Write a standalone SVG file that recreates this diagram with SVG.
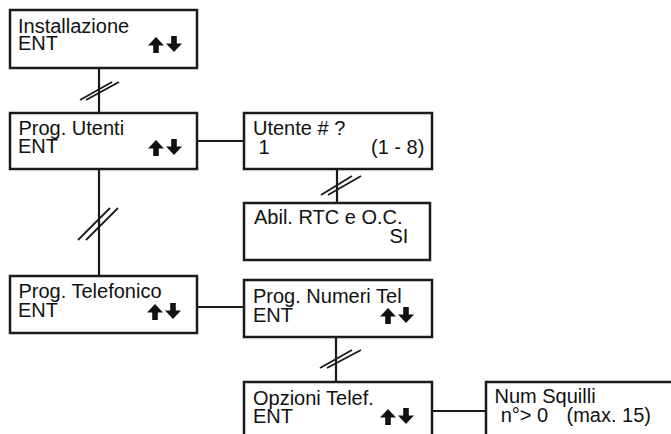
<svg xmlns="http://www.w3.org/2000/svg" xmlns:xlink="http://www.w3.org/1999/xlink" width="671" height="434" viewBox="0 0 671 434">
  <style>
    .box { fill: #ffffff; stroke: #1a1a1a; stroke-width: 2.5; }
    .wire { fill: none; stroke: #1a1a1a; stroke-width: 2.2; }
    .cut { fill: none; stroke: #1a1a1a; stroke-width: 1.8; }
    .t { font-family: "Liberation Sans", Arial, sans-serif; font-size: 20px; fill: #111111; }
    .r { text-anchor: end; }
  </style>
  <defs>
    <!-- scroll indicator: bold up and down arrows -->
    <g id="updown" fill="#111111">
      <polygon points="8,0 16,8.5 10.8,8.5 10.8,16 5.2,16 5.2,8.5 0,8.5"/>
      <polygon points="23.2,-1 28.8,-1 28.8,6.5 34,6.5 26,15 18,6.5 23.2,6.5"/>
    </g>
  </defs>

  <g id="connectors">
    <line class="wire" x1="99" y1="68" x2="99" y2="113"/>
    <line class="cut" x1="80" y1="100" x2="112" y2="82"/>
    <line class="cut" x1="86" y1="100" x2="119" y2="82"/>

    <line class="wire" x1="99" y1="169" x2="99" y2="276"/>
    <line class="cut" x1="78" y1="240" x2="110" y2="208"/>
    <line class="cut" x1="86" y1="240" x2="118" y2="208"/>

    <line class="wire" x1="197" y1="141" x2="244" y2="141"/>

    <line class="wire" x1="337" y1="169" x2="337" y2="203"/>
    <line class="cut" x1="321" y1="195" x2="352" y2="176"/>
    <line class="cut" x1="328" y1="195" x2="361" y2="176"/>

    <line class="wire" x1="197" y1="307" x2="244" y2="307"/>

    <line class="wire" x1="336" y1="337" x2="336" y2="382"/>
    <line class="cut" x1="320" y1="368" x2="352" y2="350"/>
    <line class="cut" x1="327" y1="368" x2="361" y2="350"/>

    <line class="wire" x1="432" y1="411" x2="486" y2="411"/>
  </g>

  <g id="installazione">
    <rect class="box" x="10" y="10" width="187" height="58"/>
    <text class="t"><tspan x="18" y="32.5">Installazione</tspan><tspan x="18" y="50">ENT</tspan></text>
    <use xlink:href="#updown" x="148" y="37"/>
  </g>

  <g id="prog-utenti">
    <rect class="box" x="10" y="113" width="187" height="56"/>
    <text class="t"><tspan x="18.5" y="135">Prog. Utenti</tspan><tspan x="18" y="153">ENT</tspan></text>
    <use xlink:href="#updown" x="148" y="140"/>
  </g>

  <g id="utente">
    <rect class="box" x="244" y="113" width="188" height="56"/>
    <text class="t"><tspan x="253" y="135">Utente  # ?</tspan><tspan x="258.5" y="154">1</tspan><tspan x="371" y="154">(1 - 8)</tspan></text>
  </g>

  <g id="abil-rtc">
    <rect class="box" x="244" y="203" width="186" height="57"/>
    <text class="t"><tspan x="254" y="224">Abil. RTC e O.C.</tspan><tspan x="389.5" y="243">SI</tspan></text>
  </g>

  <g id="prog-telefonico">
    <rect class="box" x="10" y="276" width="187" height="57"/>
    <text class="t"><tspan x="18.5" y="298">Prog. Telefonico</tspan><tspan x="18" y="317">ENT</tspan></text>
    <use xlink:href="#updown" x="147" y="304"/>
  </g>

  <g id="prog-numeri-tel">
    <rect class="box" x="244" y="280" width="188" height="57"/>
    <text class="t"><tspan x="253" y="303">Prog. Numeri Tel</tspan><tspan x="253" y="322">ENT</tspan></text>
    <use xlink:href="#updown" x="380" y="308"/>
  </g>

  <g id="opzioni-telef">
    <rect class="box" x="244" y="382" width="188" height="62"/>
    <text class="t"><tspan x="253" y="404.5">Opzioni Telef.</tspan><tspan x="253" y="422.5">ENT</tspan></text>
    <use xlink:href="#updown" x="380" y="409"/>
  </g>

  <g id="num-squilli">
    <rect class="box" x="486" y="382" width="200" height="62"/>
    <text class="t"><tspan x="494.5" y="403">Num Squilli</tspan><tspan x="500.7" y="422">n°&gt; 0</tspan><tspan x="566.5" y="422">(max. 15)</tspan></text>
  </g>
</svg>
